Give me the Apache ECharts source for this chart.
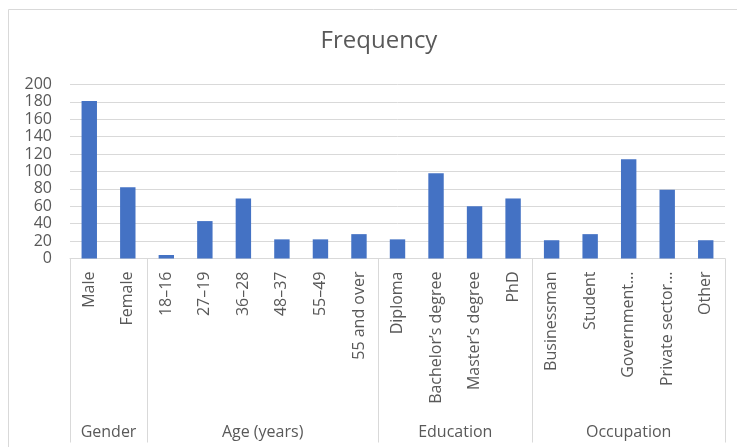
<!DOCTYPE html>
<html>
<head>
<meta charset="utf-8">
<style>
  html, body { margin: 0; padding: 0; background: #fff; }
  #chart { width: 737px; height: 447px; }
</style>
<script src="https://cdn.jsdelivr.net/npm/echarts@6/dist/echarts.min.js"></script>
</head>
<body>
<div id="chart"></div>
<script>
// Respondent profile: frequency per category, grouped by variable
const categories = [
  'Male', 'Female',
  '18–16', '27–19', '36–28', '48–37', '55–49', '55 and over',
  'Diploma', 'Bachelor’s degree', 'Master’s degree', 'PhD',
  'Businessman', 'Student', 'Government…', 'Private sector…', 'Other'
];
const frequency = [
  181, 82,
  4, 43, 69, 22, 22, 28,
  22, 98, 60, 69,
  21, 28, 114, 79, 21
];
const groupNames = ['Gender', 'Age (years)', 'Education', 'Occupation'];
const groupSizes = [2, 6, 4, 5];
const yTicks = { min: 0, max: 200, step: 20 };

// Group boundaries and centres on a 0..N value scale that spans the category band
const boundaries = [0];
groupSizes.forEach(n => boundaries.push(boundaries[boundaries.length - 1] + n));
const centres = groupNames.map((_, i) => (boundaries[i] + boundaries[i + 1]) / 2);

const FONT = '"Open Sans", "Liberation Sans", sans-serif';
const TEXT = '#595959';
const GRID = '#d9d9d9';

const chart = echarts.init(document.getElementById('chart'), null, { renderer: 'canvas' });
chart.setOption({
  animation: false,
  backgroundColor: '#ffffff',
  textStyle: { fontFamily: FONT },
  title: {
    text: 'Frequency',
    left: 374,
    textAlign: 'center',
    top: 24,
    textStyle: { fontFamily: FONT, fontSize: 24, fontWeight: 'normal', color: TEXT }
  },
  graphic: [{
    type: 'rect',
    shape: { x: 8.5, y: 9.5, width: 800, height: 500 },
    style: { fill: null, stroke: GRID, lineWidth: 1 },
    silent: true,
    z: -10
  }],
  grid: { left: 70, right: 12, top: 84.5, bottom: 188.5, containLabel: false },
  xAxis: [{
    type: 'category',
    data: categories,
    position: 'bottom',
    axisLine: { show: true, lineStyle: { color: GRID, width: 1 } },
    axisTick: { show: false },
    axisLabel: {
      interval: 0,
      rotate: 90,
      margin: 13,
      fontSize: 16,
      fontFamily: FONT,
      color: TEXT
    }
  }, {
    type: 'value',
    min: 0,
    max: categories.length,
    position: 'bottom',
    offset: 184,
    axisLine: { show: false },
    splitLine: { show: false },
    axisTick: {
      show: true,
      inside: true,
      length: 184,
      customValues: boundaries,
      lineStyle: { color: GRID, width: 1 }
    },
    axisLabel: {
      show: true,
      inside: true,
      margin: 2,
      customValues: centres,
      fontSize: 16,
      fontFamily: FONT,
      color: TEXT,
      formatter: v => {
        const i = centres.indexOf(v);
        return i >= 0 ? groupNames[i] : '';
      }
    }
  }],
  yAxis: {
    type: 'value',
    min: yTicks.min,
    max: yTicks.max,
    interval: yTicks.step,
    axisLine: { show: false },
    axisTick: { show: false },
    splitLine: { lineStyle: { color: GRID, width: 1 } },
    axisLabel: { margin: 18, fontSize: 16, fontFamily: FONT, color: TEXT }
  },
  series: [{
    type: 'bar',
    xAxisIndex: 0,
    data: frequency,
    barCategoryGap: '60%',
    itemStyle: { color: '#4472C4' }
  }]
});
</script>
</body>
</html>
